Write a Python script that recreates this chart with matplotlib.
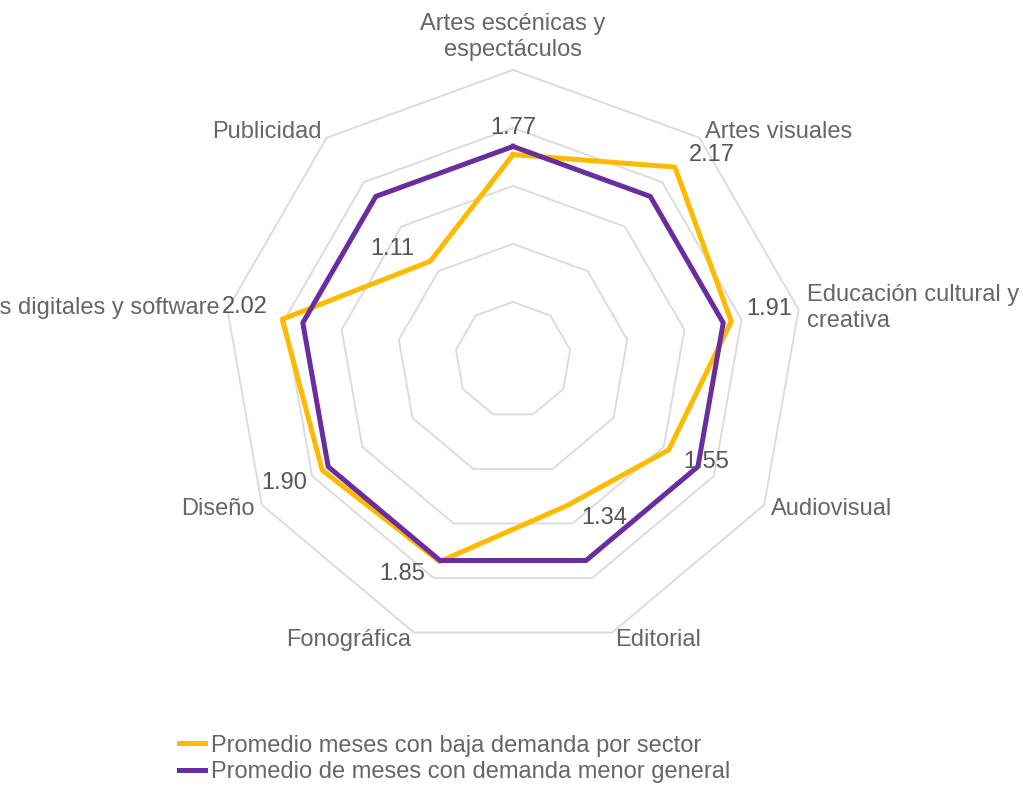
import numpy as np
import matplotlib.pyplot as plt

plt.rcParams['font.family'] = ['Liberation Sans', 'DejaVu Sans']

categories = ['Artes escénicas y\nespectáculos', 'Artes visuales', 'Educación cultural y\ncreativa',
              'Audiovisual', 'Editorial', 'Fonográfica', 'Diseño',
              'Medios digitales y software', 'Publicidad']
sector_avg = [1.77, 2.17, 1.91, 1.55, 1.34, 1.85, 1.90, 2.02, 1.11]
general_avg = [1.84] * len(categories)
grid_levels = [0.5, 1.0, 1.5, 2.0, 2.5]

YELLOW = '#ffba00'
PURPLE = '#6a2da0'
TEXT = '#666666'
GRID = '#dadada'
FS = 17

n = len(categories)
theta = np.linspace(0, 2 * np.pi, n, endpoint=False)
theta_c = np.append(theta, theta[0])

fig = plt.figure(figsize=(10.23, 7.85), dpi=100)
ax = fig.add_axes([0.218, 0.172, 0.567, 0.739], projection='polar')
ax.set_theta_zero_location('N')
ax.set_theta_direction(-1)
ax.set_ylim(0, 2.5)
ax.axis('off')

# polygon grid
for g in grid_levels:
    ax.plot(theta_c, [g] * (n + 1), color=GRID, lw=1.3, zorder=1, clip_on=False)

ax.plot(theta_c, sector_avg + sector_avg[:1], color=YELLOW, lw=3.6, zorder=3,
        label='Promedio meses con baja demanda por sector', clip_on=False)
ax.plot(theta_c, general_avg + general_avg[:1], color=PURPLE, lw=3.6, zorder=4,
        label='Promedio de meses con demanda menor general', clip_on=False)

# category labels
for t, lab in zip(theta, categories):
    s = np.sin(t)
    if abs(s) < 1e-6:
        ax.text(t, 2.58, lab, ha='center', va='bottom', fontsize=FS, color=TEXT,
                linespacing=1.2)
    else:
        ax.text(t, 2.57, lab, ha='left' if s > 0 else 'right', va='center',
                fontsize=FS, color=TEXT, linespacing=1.2)

# value labels
for t, v in zip(theta, sector_avg):
    s, c = np.sin(t), np.cos(t)
    if abs(s) < 1e-6:
        off = (0, 19)
    else:
        off = (27 * np.sign(s), 9 * np.sign(c))
    ax.annotate(f'{v:.2f}', (t, v), xytext=off, textcoords='offset points',
                ha='center', va='center', fontsize=FS, color='#555555', zorder=5)

fig.legend(loc='center left', bbox_to_anchor=(0.154, 0.033), frameon=False,
           fontsize=FS, handlelength=1.1, handletextpad=0.25, labelspacing=0.2,
           labelcolor=TEXT)

fig.savefig('out.png', dpi=100)
